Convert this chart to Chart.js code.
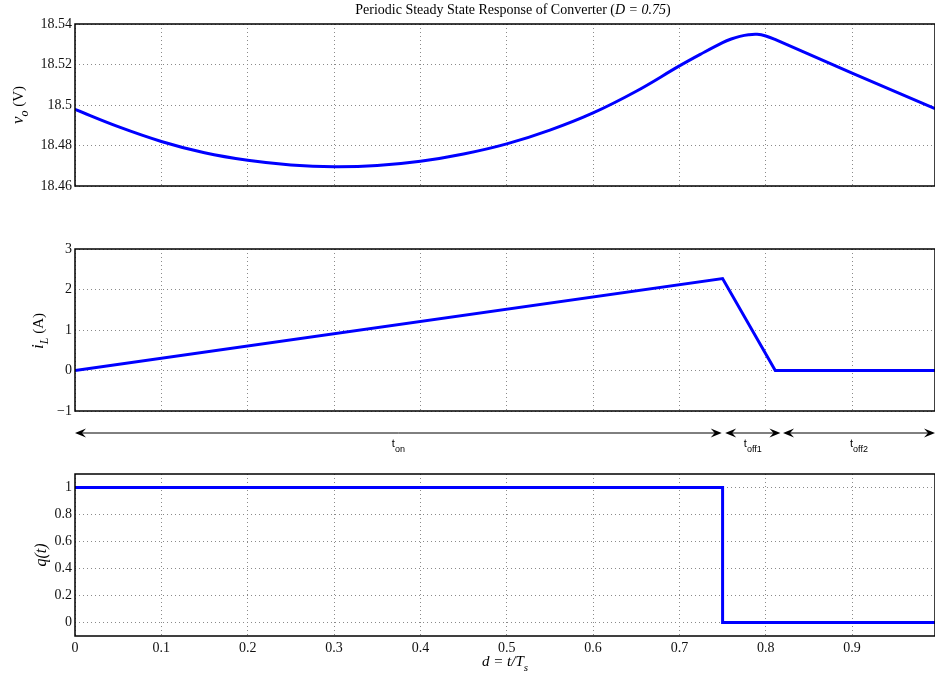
<!DOCTYPE html>
<html>
<head>
<meta charset="utf-8">
<script src="https://cdn.jsdelivr.net/npm/chart.js@4.4.0/dist/chart.umd.min.js"></script>
<style>
body { margin: 0; background: #fff; }
canvas { display: block; }
</style>
</head>
<body>
<canvas id="voChart" width="935" height="210"></canvas>
<canvas id="iLChart" width="935" height="250"></canvas>
<canvas id="qChart" width="935" height="221"></canvas>
<script>
// d = t/Ts values and readings
const dVo = [0, 0.05, 0.1, 0.15, 0.2, 0.25, 0.3, 0.35, 0.4, 0.45, 0.5, 0.55, 0.6, 0.65, 0.7,
  0.725, 0.75, 0.76, 0.77, 0.78, 0.79, 0.8, 0.81, 0.9, 0.996];
const vo = [18.4978, 18.4893, 18.4820, 18.4764, 18.4727, 18.4704, 18.4695, 18.4701, 18.4722,
  18.4758, 18.4808, 18.4876, 18.4961, 18.5068, 18.5193,
  18.5252, 18.5308, 18.5326, 18.5339, 18.5347, 18.5349, 18.5341, 18.5325, 18.5157, 18.4982];
const dIL = [0, 0.75, 0.811, 0.996];
const iL = [0, 2.27, 0, 0];
const dQ = [0, 0.75, 0.75, 0.996];
const q = [1, 1, 0, 0];

const dMax = 0.996;
const dTicks = [0, 0.1, 0.2, 0.3, 0.4, 0.5, 0.6, 0.7, 0.8, 0.9];
const voTicks = [18.46, 18.48, 18.5, 18.52, 18.54];
const iLTicks = [-1, 0, 1, 2, 3];
const qTicks = [0, 0.2, 0.4, 0.6, 0.8, 1];

// interval arrows under the inductor current plot
const spanStart = [0, 0.753, 0.82];
const spanEnd = [0.749, 0.817, 0.996];
const spanSub = ['on', 'off1', 'off2'];

const serif = 'Liberation Serif';
const sans = 'Liberation Sans';

function pts(xs, ys) {
  return xs.map((x, i) => ({ x: x, y: ys[i] }));
}

function fmt(v) {
  if (v < 0) return '\u2212' + Math.abs(v);
  return String(Number(v.toFixed(4)));
}

// draw text made of runs with own fonts and vertical shifts, centered at 0
function drawRuns(ctx, runs) {
  let total = 0;
  runs.forEach(r => { ctx.font = r.font; total += ctx.measureText(r.t).width; });
  let x = -total / 2;
  ctx.textAlign = 'left';
  ctx.textBaseline = 'middle';
  ctx.fillStyle = '#000';
  runs.forEach(r => {
    ctx.font = r.font;
    ctx.fillText(r.t, x, r.dy || 0);
    x += ctx.measureText(r.t).width;
  });
}

function textAt(ctx, x, y, runs, rotate) {
  ctx.save();
  ctx.translate(x, y);
  if (rotate) ctx.rotate(-Math.PI / 2);
  drawRuns(ctx, runs);
  ctx.restore();
}

const framePlugin = {
  id: 'frame',
  afterDraw(chart) {
    const a = chart.chartArea, ctx = chart.ctx;
    ctx.save();
    ctx.strokeStyle = '#000';
    ctx.lineWidth = 1.5;
    ctx.strokeRect(a.left, a.top, a.right - a.left, a.bottom - a.top);
    ctx.restore();
  }
};

function makeChart(id, xs, ys, yMin, yMax, yTicks, cfg) {
  return new Chart(document.getElementById(id), {
    type: 'line',
    data: {
      datasets: [{
        data: pts(xs, ys),
        borderColor: '#0000ff',
        borderWidth: 3,
        pointRadius: 0,
        tension: cfg.smooth ? 0.4 : 0
      }]
    },
    options: {
      responsive: false,
      animation: false,
      events: [],
      layout: { autoPadding: false, padding: { top: cfg.top, left: 0, right: 0, bottom: 0 } },
      plugins: { legend: { display: false }, tooltip: { enabled: false } },
      scales: {
        x: {
          type: 'linear', min: 0, max: dMax,
          afterBuildTicks: s => { s.ticks = dTicks.map(v => ({ value: v })); },
          afterFit: s => { s.height = cfg.xHeight; },
          grid: { color: '#8a8a8a', lineWidth: 1, drawTicks: false },
          border: { display: false, dash: [1, 3] },
          ticks: {
            display: cfg.xLabels, padding: 4, color: '#111', maxRotation: 0,
            font: { family: serif, size: 14 }, callback: v => fmt(v)
          }
        },
        y: {
          min: yMin, max: yMax,
          afterBuildTicks: s => { s.ticks = yTicks.map(v => ({ value: v })); },
          afterFit: s => { s.width = 75; },
          grid: { color: '#8a8a8a', lineWidth: 1, drawTicks: false },
          border: { display: false, dash: [1, 3] },
          ticks: {
            padding: 3, color: '#111',
            font: { family: serif, size: 14 }, callback: v => fmt(v)
          }
        }
      }
    },
    plugins: [framePlugin, cfg.extra]
  });
}

makeChart('voChart', dVo, vo, 18.46, 18.54, voTicks, {
  smooth: true, top: 24, xHeight: 24, xLabels: false,
  extra: {
    id: 'voText',
    afterDraw(chart) {
      const ctx = chart.ctx;
      textAt(ctx, 513, 10, [
        { t: 'Periodic Steady State Response of Converter (', font: '14px ' + serif },
        { t: 'D = 0.75', font: 'italic 14px ' + serif },
        { t: ')', font: '14px ' + serif }
      ]);
      textAt(ctx, 19, 105, [
        { t: 'v', font: 'italic 17px ' + serif },
        { t: 'o', font: 'italic 12px ' + serif, dy: 6 },
        { t: ' (V)', font: '15px ' + serif }
      ], true);
    }
  }
});

makeChart('iLChart', dIL, iL, -1, 3, iLTicks, {
  smooth: false, top: 39, xHeight: 49, xLabels: false,
  extra: {
    id: 'iLText',
    afterDraw(chart) {
      const ctx = chart.ctx, xs = chart.scales.x;
      textAt(ctx, 39, 121, [
        { t: 'i', font: 'italic 17px ' + serif },
        { t: 'L', font: 'italic 12px ' + serif, dy: 6 },
        { t: ' (A)', font: '15px ' + serif }
      ], true);
      const y = 223;
      ctx.save();
      ctx.strokeStyle = '#000';
      ctx.fillStyle = '#000';
      ctx.lineWidth = 1;
      spanStart.forEach((s, i) => {
        const x1 = xs.getPixelForValue(s), x2 = xs.getPixelForValue(spanEnd[i]);
        ctx.beginPath();
        ctx.moveTo(x1 + 6, y);
        ctx.lineTo(x2 - 6, y);
        ctx.stroke();
        [[x1, 1], [x2, -1]].forEach(([x, dir]) => {
          ctx.beginPath();
          ctx.moveTo(x, y);
          ctx.lineTo(x + dir * 11, y - 4.5);
          ctx.lineTo(x + dir * 7, y);
          ctx.lineTo(x + dir * 11, y + 4.5);
          ctx.closePath();
          ctx.fill();
        });
        const mid = (x1 + x2) / 2;
        textAt(ctx, mid, 234, [
          { t: 't', font: '11px ' + sans },
          { t: spanSub[i], font: '9px ' + sans, dy: 6 }
        ]);
      });
      ctx.restore();
    }
  }
});

makeChart('qChart', dQ, q, -0.1, 1.1, qTicks, {
  smooth: false, top: 14, xHeight: 45, xLabels: true,
  extra: {
    id: 'qText',
    afterDraw(chart) {
      const ctx = chart.ctx;
      textAt(ctx, 42, 95, [
        { t: 'q(t)', font: 'italic 16px ' + serif }
      ], true);
      textAt(ctx, 505, 202, [
        { t: 'd = t/T', font: 'italic 15px ' + serif },
        { t: 's', font: 'italic 11px ' + serif, dy: 6 }
      ]);
    }
  }
});
</script>
</body>
</html>
